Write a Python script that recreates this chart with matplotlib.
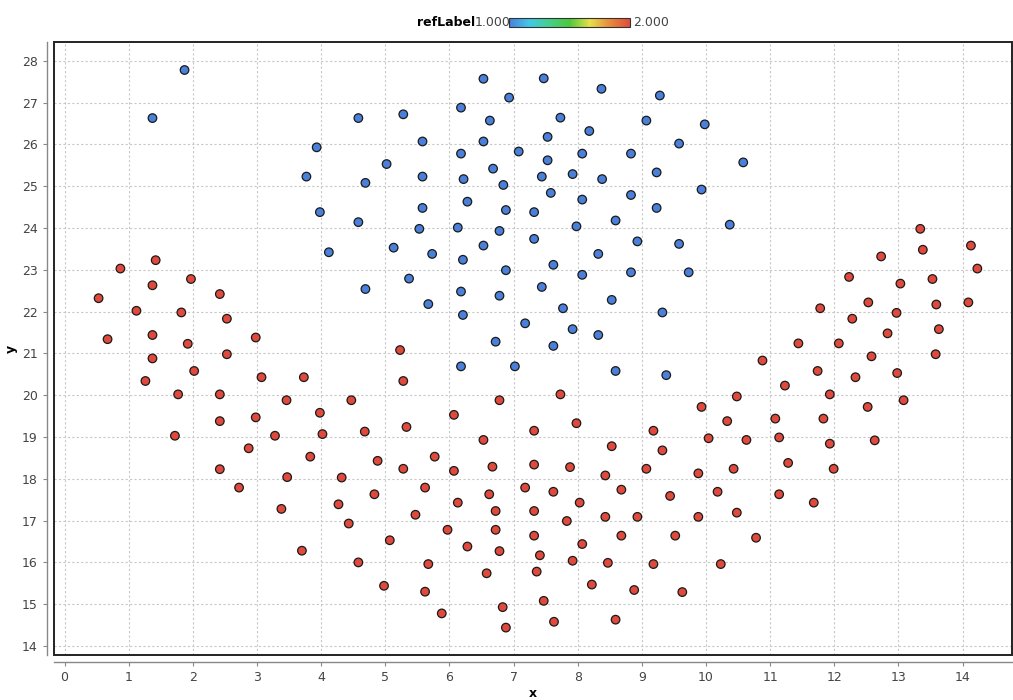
import numpy as np
import matplotlib
matplotlib.use("Agg")
import matplotlib.pyplot as plt
from matplotlib.colors import LinearSegmentedColormap, Normalize
from matplotlib.patches import Rectangle
from matplotlib.colorbar import ColorbarBase

# points with refLabel = 1 (blue)
blue_x = [1.87, 1.37, 6.53, 6.93, 6.18, 4.58, 5.28, 6.63, 5.58, 6.53, 3.93, 6.18, 7.08, 5.02,
          6.68, 3.77, 4.69, 5.58, 6.22, 6.84, 6.28, 5.58, 6.88, 7.32, 3.98, 4.58, 7.47, 8.37,
          9.28, 7.73, 9.07, 9.98, 8.18, 7.53, 9.58, 8.07, 8.83, 7.53, 10.58, 7.44, 7.92, 8.38,
          9.23, 7.58, 8.07, 8.83, 9.93, 9.23, 8.59, 7.98, 10.37, 5.53, 6.13, 6.78, 7.32, 4.12,
          5.13, 5.73, 6.53, 6.21, 6.88, 5.37, 4.69, 6.18, 6.78, 5.67, 6.21, 7.18, 6.72, 6.18,
          7.02, 8.93, 9.58, 8.32, 7.62, 8.07, 8.83, 9.73, 7.44, 8.53, 7.77, 9.32, 7.92, 8.32,
          7.62, 8.59, 9.38]
blue_y = [27.78, 26.63, 27.57, 27.12, 26.88, 26.63, 26.72, 26.57, 26.07, 26.07, 25.93, 25.78,
          25.83, 25.53, 25.42, 25.23, 25.08, 25.23, 25.17, 25.03, 24.63, 24.48, 24.43, 24.38,
          24.38, 24.14, 27.58, 27.33, 27.17, 26.64, 26.57, 26.48, 26.32, 26.18, 26.02, 25.78,
          25.78, 25.62, 25.57, 25.23, 25.29, 25.17, 25.33, 24.84, 24.68, 24.79, 24.92, 24.48,
          24.18, 24.04, 24.08, 23.98, 24.01, 23.93, 23.74, 23.42, 23.53, 23.38, 23.58, 23.24,
          22.99, 22.79, 22.54, 22.48, 22.38, 22.18, 21.92, 21.72, 21.28, 20.69, 20.69, 23.68,
          23.62, 23.38, 23.12, 22.88, 22.94, 22.94, 22.59, 22.28, 22.08, 21.98, 21.58, 21.44,
          21.18, 20.58, 20.48]

# points with refLabel = 2 (red)
red_x = [0.87, 1.42, 1.97, 1.37, 2.42, 0.53, 1.12, 1.82, 2.53, 0.67, 1.37, 1.92, 2.98, 1.37,
         2.53, 2.02, 1.26, 3.07, 1.77, 2.42, 3.46, 2.42, 2.98, 1.72, 3.28, 2.87, 2.42, 3.47,
         2.72, 3.38, 3.70,
         3.73, 5.23, 5.28, 4.47, 3.98, 6.78, 6.07, 4.02, 4.68, 5.33, 6.53, 7.32,
         3.83, 4.88, 5.77, 5.28, 6.07, 6.67, 7.32, 4.32, 5.62, 7.18, 4.83, 6.62, 4.27, 6.13,
         6.72, 7.32, 5.47, 4.43, 5.97, 6.72, 5.07, 7.32, 6.28, 6.78, 7.41, 4.58, 5.67, 6.58,
         7.36, 4.98, 5.62, 6.83, 5.88, 6.88,
         10.88, 7.73, 10.48, 9.93, 7.98, 10.33, 11.08, 9.18, 10.04, 10.63, 11.14,
         13.34, 14.13, 13.38, 12.73, 14.23, 12.23, 13.53, 13.03, 11.78, 12.53, 13.59, 14.09,
         12.97, 12.28, 12.83, 13.63, 11.44, 12.07, 13.58, 12.58, 11.74, 12.98, 12.33, 11.23,
         11.93, 13.08, 12.52, 11.83, 12.63,
         11.93, 11.28, 11.99, 11.14, 11.68,
         8.53, 9.32, 7.88, 9.07, 10.43, 9.88, 8.43, 8.68, 7.62, 9.44, 10.18, 8.03, 8.43, 8.93,
         9.88, 10.48, 7.83, 8.68, 9.52, 10.78, 8.07, 7.92, 8.47, 9.18, 10.23, 8.22, 8.88, 9.63,
         7.47, 7.63, 8.59]
red_y = [23.03, 23.23, 22.78, 22.63, 22.42, 22.32, 22.02, 21.98, 21.83, 21.34, 21.44, 21.23,
         21.38, 20.88, 20.98, 20.58, 20.34, 20.43, 20.02, 20.02, 19.88, 19.38, 19.47, 19.03,
         19.03, 18.73, 18.23, 18.04, 17.79, 17.28, 16.28,
         20.43, 21.08, 20.34, 19.88, 19.58, 19.88, 19.53, 19.07, 19.13, 19.24, 18.93, 19.15,
         18.53, 18.43, 18.53, 18.24, 18.19, 18.29, 18.34, 18.03, 17.79, 17.79, 17.63, 17.63,
         17.39, 17.43, 17.23, 17.23, 17.14, 16.93, 16.78, 16.78, 16.53, 16.64, 16.38, 16.27,
         16.17, 16.00, 15.96, 15.74, 15.78, 15.44, 15.30, 14.93, 14.78, 14.44,
         20.83, 20.02, 19.97, 19.72, 19.33, 19.38, 19.44, 19.15, 18.97, 18.93, 18.99,
         23.98, 23.58, 23.48, 23.32, 23.03, 22.83, 22.78, 22.67, 22.08, 22.22, 22.17, 22.22,
         21.97, 21.83, 21.48, 21.58, 21.24, 21.24, 20.98, 20.93, 20.58, 20.53, 20.43, 20.23,
         20.02, 19.88, 19.72, 19.44, 18.92,
         18.84, 18.38, 18.24, 17.63, 17.43,
         18.78, 18.68, 18.28, 18.24, 18.24, 18.13, 18.08, 17.74, 17.69, 17.59, 17.69, 17.43,
         17.09, 17.09, 17.09, 17.19, 16.99, 16.64, 16.64, 16.59, 16.44, 16.04, 15.99, 15.96,
         15.96, 15.47, 15.34, 15.29, 15.08, 14.58, 14.63]

xticks = list(range(0, 15))
yticks = list(range(14, 29))

x = np.array(blue_x + red_x)
y = np.array(blue_y + red_y)
ref_label = np.array([1.0] * len(blue_x) + [2.0] * len(red_x))

cmap = LinearSegmentedColormap.from_list(
    "ref", ["#4a80da", "#3fc8e8", "#44d08a", "#4cc83c", "#e6e04a", "#e88a3c", "#df4a3c"])
norm = Normalize(vmin=1.0, vmax=2.0)

plt.rcParams['font.family'] = ['DejaVu Sans']
fig = plt.figure(figsize=(10.13, 7.0), dpi=100)
ax = fig.add_axes([0.053, 0.064, 0.946, 0.876])

ax.scatter(x, y, c=ref_label, cmap=cmap, norm=norm, s=38,
           edgecolors="#1a1a1a", linewidths=0.9, zorder=3)

ax.set_xlim(-0.17, 14.77)
ax.set_ylim(13.78, 28.45)
ax.set_xticks(xticks)
ax.set_yticks(yticks)
ax.grid(True, color="#c8c8c8", linestyle=(0, (2, 2)), linewidth=0.8)
ax.set_axisbelow(True)

for s in ["top", "right"]:
    ax.spines[s].set_visible(False)
for s in ["left", "bottom"]:
    ax.spines[s].set_position(("outward", 5))
    ax.spines[s].set_color("#888888")
    ax.spines[s].set_linewidth(1.0)
ax.add_patch(Rectangle((0, 0), 1, 1, transform=ax.transAxes, fill=False,
                       edgecolor="#222222", linewidth=1.4, clip_on=False, zorder=5))

ax.tick_params(axis="both", direction="out", length=3, color="#888888",
               labelsize=9, labelcolor="#444444")
ax.set_xlabel("x", fontsize=9, fontweight="bold", labelpad=2)
ax.set_ylabel("y", fontsize=9, fontweight="bold", labelpad=3)

# colour legend at the top
cax = fig.add_axes([0.5025, 0.961, 0.1195, 0.013])
cb = ColorbarBase(cax, cmap=cmap, norm=norm, orientation="horizontal")
cb.set_ticks([])
cb.outline.set_edgecolor("#333333")
cb.outline.set_linewidth(0.8)
fig.text(0.4695, 0.9675, "refLabel", ha="right", va="center", fontsize=9, fontweight="bold")
fig.text(0.4685, 0.9675, "1.000", ha="left", va="center", fontsize=9, color="#444444")
fig.text(0.625, 0.9675, "2.000", ha="left", va="center", fontsize=9, color="#444444")

fig.savefig("out.png", dpi=100)
